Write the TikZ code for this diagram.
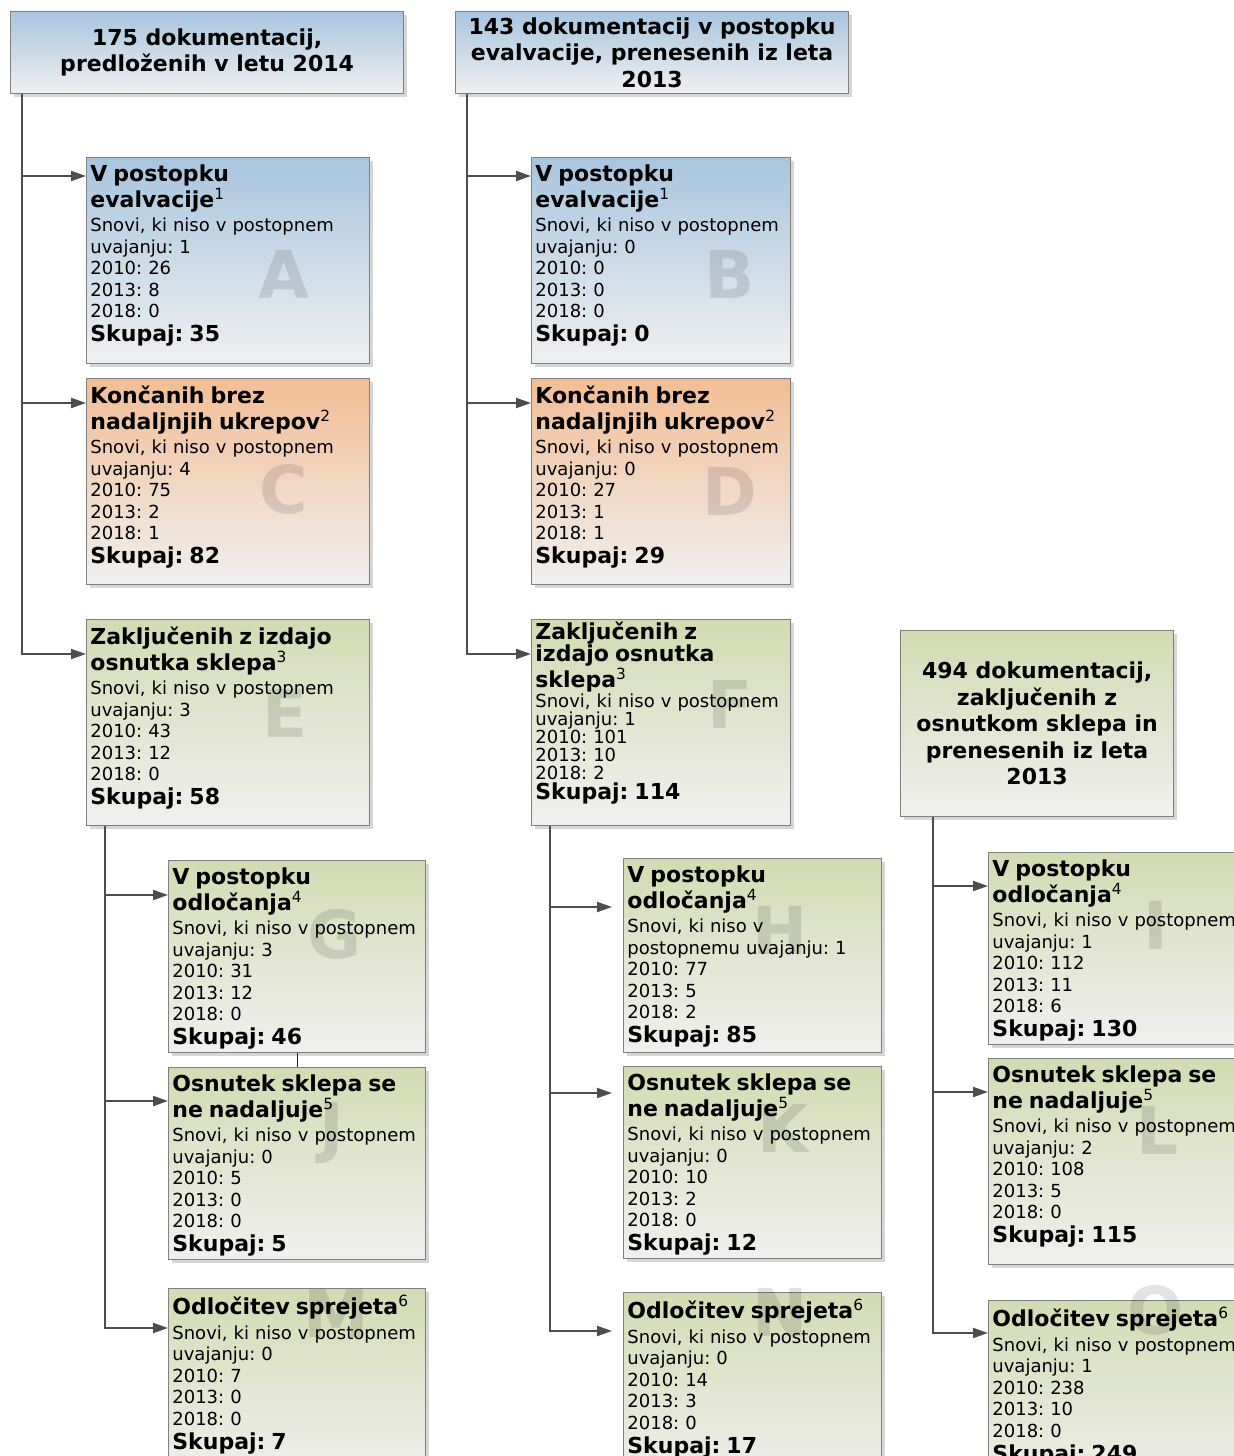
\documentclass[tikz,border=0pt]{standalone}
\usepackage{fontspec}
\setmainfont{DejaVu Sans}
\usepackage{tikz}
\usetikzlibrary{positioning,arrows.meta,calc,shadows}
\frenchspacing

\definecolor{blutop}{RGB}{168,197,223}
\definecolor{oratop}{RGB}{242,189,148}
\definecolor{grntop}{RGB}{211,219,178}
\definecolor{cardbot}{RGB}{240,240,240}
\definecolor{edgegray}{RGB}{128,128,128}
\definecolor{wiregray}{RGB}{77,77,77}

\newcommand{\ttl}[2]{{\fontsize{11}{13}\selectfont\bfseries #1\textsuperscript{\mdseries #2}\par}\vspace{1.5pt}}
\newcommand{\tot}[1]{{\fontsize{11}{12}\selectfont\bfseries Skupaj: #1\par}}

\begin{document}
\begin{tikzpicture}[x=0.5pt, y=-0.5pt,
    card/.style={draw=edgegray, line width=0.6pt, anchor=north west, drop shadow={shadow xshift=1.5pt, shadow yshift=-1.5pt, fill=black!40, opacity=0.4}},
    blu/.style={card, top color=blutop, bottom color=cardbot},
    ora/.style={card, top color=oratop, bottom color=cardbot},
    grn/.style={card, top color=grntop, bottom color=cardbot},
    hdr/.style={align=center, inner sep=1pt, font=\fontsize{11}{13.25}\selectfont\bfseries},
    wide/.style={minimum width=141.5pt, minimum height=103pt},
    mid/.style={minimum width=129.5pt, minimum height=103pt},
    sub/.style={minimum width=129pt, minimum height=96pt},
    txt/.style={anchor=north west, inner sep=2pt, yshift=-1.5pt, text width=150pt, align=left, font=\fontsize{9}{10.75}\selectfont},
    wm/.style={font=\fontsize{33}{33}\selectfont\bfseries, text=black, text opacity=0.11},
    wire/.style={draw=wiregray, line width=1pt},
    arrow/.style={wire, -{Triangle[length=7.5pt, width=5pt]}}
]
\path[use as bounding box, fill=white] (0,0) rectangle (1234,1456);

% headers
\node[blu, hdr, minimum width=196.5pt, minimum height=41pt] (h1) at (10,11) {175 dokumentacij,\\ predloženih v letu 2014};
\node[blu, hdr, minimum width=196.5pt, minimum height=41pt] (h2) at (455,11) {143 dokumentacij v postopku\\ evalvacije, prenesenih iz leta\\ 2013};
\node[grn, hdr, minimum width=136.5pt, minimum height=93pt] (h3) at (900,630) {494 dokumentacij,\\ zaključenih z\\ osnutkom sklepa in\\ prenesenih iz leta\\ 2013};

% boxes
\node[blu, wide] (A) at (86,157) {};
\node[ora, wide] (C) at (86,378) {};
\node[grn, wide] (E) at (86,619) {};
\node[blu, mid] (B) at (531,157) {};
\node[ora, mid] (D) at (531,378) {};
\node[grn, mid] (F) at (531,619) {};
\node[grn, sub, minimum width=128.5pt] (G) at (168,860) {};
\node[grn, sub, minimum width=128.5pt] (J) at (168,1067) {};
\node[grn, sub, minimum width=128.5pt] (M) at (168,1288) {};
\node[grn, sub, minimum height=97pt] (H) at (623,858) {};
\node[grn, sub] (K) at (623,1066) {};
\node[grn, sub] (N) at (623,1292) {};
\node[grn, sub] (I) at (988,852) {};
\node[grn, sub, minimum height=103pt] (L) at (988,1058) {};
\node[grn, sub] (O) at (988,1300) {};

% big letters
\node[wm] (wA) at (284,274) {A};
\node[wm] (wB) at (730,274) {B};
\node[wm] (wC) at (284,489) {C};
\node[wm] (wD) at (730,491) {D};
\node[wm] (wE) at (285,713) {E};
\node[wm] (wF) at (730,704) {F};
\node[wm] (wG) at (335,934) {G};
\node[wm] (wH) at (780,930) {H};
\node[wm] (wI) at (1156,925) {I};
\node[wm] (wJ) at (332,1133) {J};
\node[wm] (wK) at (783,1128) {K};
\node[wm] (wL) at (1158,1130) {L};
\node[wm] (wM) at (336,1313) {M};
\node[wm] (wN) at (780,1312) {N};
\node[wm] (wO) at (1156,1310) {O};

% texts
\node[txt] (tA) at (A.north west) {\ttl{V postopku\\ evalvacije}{1}Snovi, ki niso v postopnem\\ uvajanju: 1\\ 2010: 26\\ 2013: 8\\ 2018: 0\par\tot{35}};
\node[txt] (tC) at (C.north west) {\ttl{Končanih brez\\ nadaljnjih ukrepov}{2}Snovi, ki niso v postopnem\\ uvajanju: 4\\ 2010: 75\\ 2013: 2\\ 2018: 1\par\tot{82}};
\node[txt] (tE) at (E.north west) {\ttl{Zaključenih z izdajo\\ osnutka sklepa}{3}Snovi, ki niso v postopnem\\ uvajanju: 3\\ 2010: 43\\ 2013: 12\\ 2018: 0\par\tot{58}};
\node[txt] (tB) at (B.north west) {\ttl{V postopku\\ evalvacije}{1}Snovi, ki niso v postopnem\\ uvajanju: 0\\ 2010: 0\\ 2013: 0\\ 2018: 0\par\tot{0}};
\node[txt] (tD) at (D.north west) {\ttl{Končanih brez\\ nadaljnjih ukrepov}{2}Snovi, ki niso v postopnem\\ uvajanju: 0\\ 2010: 27\\ 2013: 1\\ 2018: 1\par\tot{29}};
\node[txt, inner sep=1pt, xshift=1pt, yshift=1.5pt] (tF) at (F.north west) {{\fontsize{11}{11.25}\selectfont\bfseries Zaključenih z\\ izdajo osnutka\\ sklepa\textsuperscript{\mdseries 3}\par}{\fontsize{9}{9}\selectfont Snovi, ki niso v postopnem\\ uvajanju: 1\\ 2010: 101\\ 2013: 10\\ 2018: 2\par}{\fontsize{11}{10}\selectfont\bfseries Skupaj: 114\par}};
\node[txt] (tG) at (G.north west) {\ttl{V postopku\\ odločanja}{4}Snovi, ki niso v postopnem\\ uvajanju: 3\\ 2010: 31\\ 2013: 12\\ 2018: 0\par\tot{46}};
\node[txt] (tJ) at (J.north west) {\ttl{Osnutek sklepa se\\ ne nadaljuje}{5}Snovi, ki niso v postopnem\\ uvajanju: 0\\ 2010: 5\\ 2013: 0\\ 2018: 0\par\tot{5}};
\node[txt] (tM) at (M.north west) {\ttl{Odločitev sprejeta}{6}Snovi, ki niso v postopnem\\ uvajanju: 0\\ 2010: 7\\ 2013: 0\\ 2018: 0\par\tot{7}};
\node[txt] (tH) at (H.north west) {\ttl{V postopku\\ odločanja}{4}Snovi, ki niso v\\ postopnemu uvajanju: 1\\ 2010: 77\\ 2013: 5\\ 2018: 2\par\tot{85}};
\node[txt] (tK) at (K.north west) {\ttl{Osnutek sklepa se\\ ne nadaljuje}{5}Snovi, ki niso v postopnem\\ uvajanju: 0\\ 2010: 10\\ 2013: 2\\ 2018: 0\par\tot{12}};
\node[txt] (tN) at (N.north west) {\ttl{Odločitev sprejeta}{6}Snovi, ki niso v postopnem\\ uvajanju: 0\\ 2010: 14\\ 2013: 3\\ 2018: 0\par\tot{17}};
\node[txt] (tI) at (I.north west) {\ttl{V postopku\\ odločanja}{4}Snovi, ki niso v postopnem\\ uvajanju: 1\\ 2010: 112\\ 2013: 11\\ 2018: 6\par\tot{130}};
\node[txt] (tL) at (L.north west) {\ttl{Osnutek sklepa se\\ ne nadaljuje}{5}Snovi, ki niso v postopnem\\ uvajanju: 2\\ 2010: 108\\ 2013: 5\\ 2018: 0\par\tot{115}};
\node[txt] (tO) at (O.north west) {\ttl{Odločitev sprejeta}{6}Snovi, ki niso v postopnem\\ uvajanju: 1\\ 2010: 238\\ 2013: 10\\ 2018: 0\par\tot{249}};

% connectors
\coordinate (t1) at ($(h1.south west)+(12,0)$);
\draw[arrow] (t1) |- ($(A.north west)+(0,19)$);
\draw[arrow] (t1) |- ($(C.north west)+(0,25)$);
\draw[arrow] (t1) |- ($(E.north west)+(0,35)$);

\coordinate (t2) at ($(h2.south west)+(12,0)$);
\draw[arrow] (t2) |- ($(B.north west)+(0,19)$);
\draw[arrow] (t2) |- ($(D.north west)+(0,25)$);
\draw[arrow] (t2) |- ($(F.north west)+(0,35)$);

\coordinate (t3) at ($(E.south west)+(19,0)$);
\draw[arrow] (t3) |- ($(G.north west)+(0,35)$);
\draw[arrow] (t3) |- ($(J.north west)+(0,34)$);
\draw[arrow] (t3) |- ($(M.north west)+(0,40)$);
\draw[draw=black!85, line width=0.5pt] (G.south) -- (J.north);

\coordinate (t4) at ($(F.south west)+(19,0)$);
\draw[arrow, shorten >=5.5pt] (t4) |- ($(H.north west)+(0,49)$);
\draw[arrow, shorten >=5.5pt] (t4) |- ($(K.north west)+(0,27)$);
\draw[arrow, shorten >=5.5pt] (t4) |- ($(N.north west)+(0,39)$);

\coordinate (t5) at ($(h3.south west)+(33,0)$);
\draw[arrow] (t5) |- ($(I.north west)+(0,34)$);
\draw[arrow] (t5) |- ($(L.north west)+(0,34)$);
\draw[arrow] (t5) |- ($(O.north west)+(0,33)$);
\end{tikzpicture}
\end{document}
